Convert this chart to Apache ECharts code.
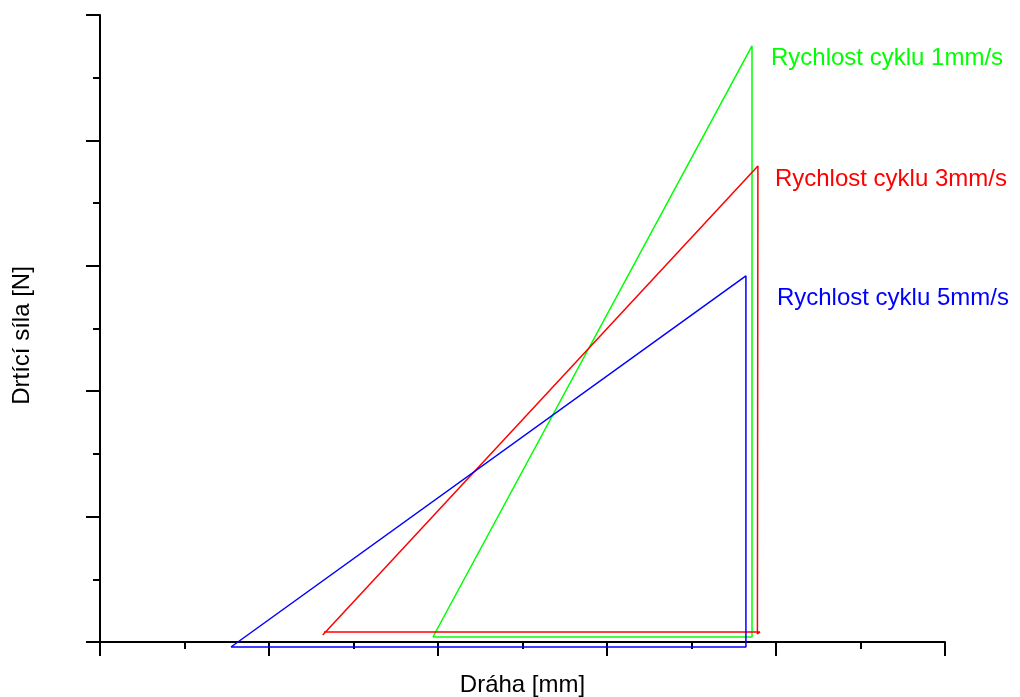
<!DOCTYPE html>
<html>
<head>
<meta charset="utf-8">
<script src="https://cdn.jsdelivr.net/npm/echarts@6/dist/echarts.min.js"></script>
<style>html,body{margin:0;padding:0;background:#fff}#c{width:1020px;height:697px}</style>
</head>
<body>
<div id="c"></div>
<script>
// Data (x: Dráha [mm], y: Drtící síla [N]) — closed loading cycles
const seriesNames = ['Rychlost cyklu 1mm/s', 'Rychlost cyklu 3mm/s', 'Rychlost cyklu 5mm/s'];
const green1 = [[1.970, 0.040], [3.858, 4.753], [3.858, 0.040], [1.970, 0.040]];
const red3 = [[1.318, 0.056], [3.893, 3.796], [3.890, 0.064], [3.905, 0.080], [1.325, 0.080]];
const blue5 = [[0.775, -0.040], [3.822, 2.919], [3.822, -0.040], [0.775, -0.040]];
const peakIndex = [1, 1, 1];
const colors = ['#00ff00', '#ff0000', '#0000ff'];
const labelOffsets = [[14, 12], [12, 13], [26, 22]];
const xAxisName = 'Dráha [mm]';
const yAxisName = 'Drtící síla [N]';

const font = 'Arial, "Liberation Sans", sans-serif';
const datasets = [green1, red3, blue5];

const series = datasets.map((d, i) => ({
  name: seriesNames[i],
  type: 'line',
  symbol: 'circle',
  symbolSize: 0,
  showSymbol: true,
  clip: false,
  animation: false,
  itemStyle: { color: colors[i] },
  lineStyle: { color: colors[i], width: 1.5 },
  data: d.map((p, j) => j === peakIndex[i] ? {
    value: p,
    label: {
      show: true, position: 'right', formatter: seriesNames[i],
      color: colors[i], fontSize: 24, fontFamily: font,
      offset: labelOffsets[i]
    }
  } : p)
}));

const axisCommon = {
  type: 'value', min: 0, max: 5, interval: 1,
  axisLine: { show: true, onZero: false, lineStyle: { color: '#000', width: 2 } },
  axisTick: { show: true, inside: false, length: 14, lineStyle: { color: '#000', width: 2 } },
  minorTick: { show: true, splitNumber: 2, length: 7, lineStyle: { color: '#000', width: 2 } },
  axisLabel: { show: false },
  splitLine: { show: false },
  nameLocation: 'middle',
  nameTextStyle: { color: '#000', fontSize: 24, fontFamily: font }
};

const chart = echarts.init(document.getElementById('c'), null, { renderer: 'canvas' });
chart.setOption({
  backgroundColor: '#fff',
  animation: false,
  grid: { left: 100, right: 75, top: 15, bottom: 55, containLabel: false, outerBoundsMode: 'none' },
  xAxis: Object.assign({}, axisCommon, { name: xAxisName, nameGap: 31 }),
  yAxis: Object.assign({}, axisCommon, {
    name: yAxisName, nameGap: 66,
    nameTextStyle: { color: '#000', fontSize: 24, fontFamily: font, padding: [0, 14, 0, 0] }
  }),
  series: series
});
</script>
</body>
</html>
